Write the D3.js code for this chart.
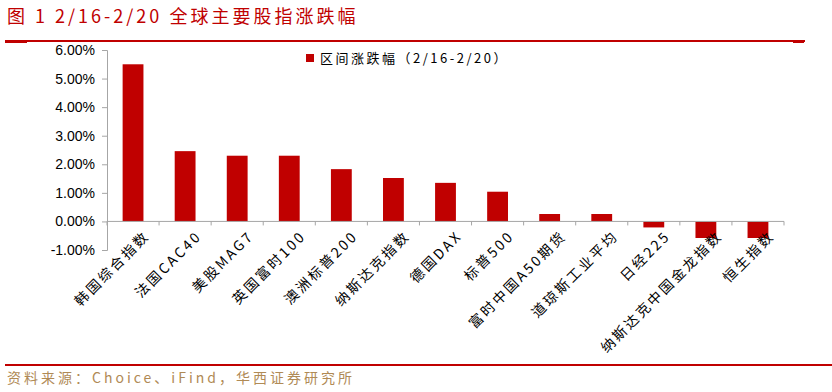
<!DOCTYPE html>
<html>
<head>
<meta charset="utf-8">
<script src="https://cdn.jsdelivr.net/npm/d3@7"></script>
<style>
body { margin: 0; background: #fff; }
text { font-family: "Noto Sans CJK SC", "Liberation Sans", sans-serif; }
</style>
</head>
<body>
<script>
var categories = ["韩国综合指数", "法国CAC40", "美股MAG7", "英国富时100", "澳洲标普200", "纳斯达克指数", "德国DAX",
  "标普500", "富时中国A50期货", "道琼斯工业平均", "日经225", "纳斯达克中国金龙指数", "恒生指数"];
var changes = [5.50, 2.46, 2.30, 2.30, 1.83, 1.52, 1.35, 1.04, 0.26, 0.26, -0.21, -0.58, -0.58];
var yTicks = [-1, 0, 1, 2, 3, 4, 5, 6];
var seriesName = "区间涨跌幅（2/16-2/20）";
var title = "图 1 2/16-2/20 全球主要股指涨跌幅";
var source = "资料来源：Choice、iFind，华西证券研究所";

var W = 832, H = 392;
var svg = d3.select("body").append("svg").attr("width", W).attr("height", H);

// header
svg.append("text").attr("x", 7).attr("y", 23).attr("fill", "#c00000")
  .style("font-size", "18px").style("letter-spacing", "3px").text(title);
svg.append("line").attr("x1", 5).attr("x2", 805).attr("y1", 41).attr("y2", 41)
  .attr("stroke", "#c00000").attr("stroke-width", 2);
svg.append("rect").attr("x", 5).attr("y", 40).attr("width", 22).attr("height", 3).attr("fill", "#c00000");
svg.append("rect").attr("x", 793).attr("y", 40).attr("width", 11).attr("height", 3).attr("fill", "#c00000");

var x = d3.scaleBand().domain(categories).range([107, 784]).paddingInner(0.6).paddingOuter(0.3);
var y = d3.scaleLinear().domain([-1, 6]).range([250, 50]);

var g = svg.append("g");

g.selectAll("rect.bar").data(changes).enter().append("rect")
  .attr("class", "bar")
  .attr("x", function(d, i) { return x(categories[i]); })
  .attr("width", x.bandwidth())
  .attr("y", function(d) { return y(Math.max(0, d)); })
  .attr("height", function(d) { return Math.abs(y(d) - y(0)); })
  .attr("fill", "#c00000");

// y axis
var yAxis = d3.axisLeft(y).tickValues(yTicks).tickSize(5).tickPadding(7)
  .tickFormat(function(d) { return d.toFixed(2) + "%"; });
var ya = g.append("g").attr("transform", "translate(107,0)").call(yAxis);
ya.select(".domain").attr("stroke", "#a6a6a6");
ya.selectAll(".tick line").attr("stroke", "#a6a6a6");
ya.selectAll(".tick text").attr("fill", "#000").style("font-size", "14px")
  .style("font-family", "'Liberation Sans', sans-serif");

// x axis at zero line
var xa = g.append("g");
xa.append("line").attr("x1", 107).attr("x2", 784).attr("y1", y(0)).attr("y2", y(0)).attr("stroke", "#a6a6a6");
xa.selectAll("line.tk").data(d3.range(categories.length + 1)).enter().append("line")
  .attr("class", "tk")
  .attr("x1", function(i) { return 107 + (784 - 107) * i / categories.length; })
  .attr("x2", function(i) { return 107 + (784 - 107) * i / categories.length; })
  .attr("y1", y(0)).attr("y2", y(0) + 4).attr("stroke", "#a6a6a6");

xa.selectAll("text.cat").data(categories).enter().append("text")
  .attr("class", "cat")
  .attr("transform", function(d) {
    return "translate(" + (x(d) + x.bandwidth() / 2 + 14) + "," + (y(0) + 12) + ") rotate(-45)";
  })
  .attr("text-anchor", "end")
  .attr("dy", "0.35em")
  .style("font-size", "14px").style("letter-spacing", "2.5px")
  .text(function(d) { return d; });

// legend
svg.append("rect").attr("x", 306).attr("y", 54).attr("width", 8).attr("height", 8).attr("fill", "#c00000");
svg.append("text").attr("x", 320).attr("y", 63).style("font-size", "13px").style("letter-spacing", "2.5px")
  .attr("fill", "#000").text(seriesName);

// footer
svg.append("line").attr("x1", 5).attr("x2", 832).attr("y1", 365).attr("y2", 365)
  .attr("stroke", "#c00000").attr("stroke-width", 2);
svg.append("text").attr("x", 7).attr("y", 383).attr("fill", "#b08a55")
  .style("font-size", "14px").style("letter-spacing", "3px").text(source);
</script>
</body>
</html>
